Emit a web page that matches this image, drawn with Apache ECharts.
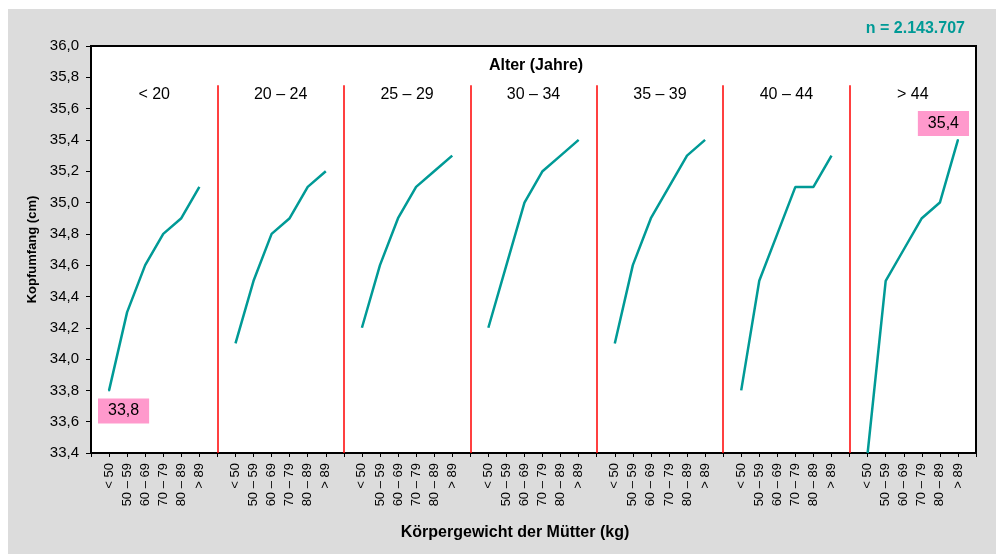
<!DOCTYPE html>
<html>
<head>
<meta charset="utf-8">
<script src="https://cdn.jsdelivr.net/npm/echarts@6/dist/echarts.min.js"></script>
<style>
  html, body { margin: 0; padding: 0; background: #ffffff; }
  #wrap { position: relative; width: 996px; height: 554px; overflow: hidden; }
  #panel { position: absolute; left: 8px; top: 9px; right: 0; bottom: 0; background: #dcdcdc; }
  #chart { position: absolute; left: 0; top: 0; width: 996px; height: 554px; }
</style>
</head>
<body>
<div id="wrap"><div id="panel"></div><div id="chart"></div></div>
<script>
// Maternal weight classes (x categories inside each age block)
const weightClasses = ['< 50', '50 – 59', '60 – 69', '70 – 79', '80 – 89', '> 89'];
// Maternal age groups (blocks)
const ageGroups = ['< 20', '20 – 24', '25 – 29', '30 – 34', '35 – 39', '40 – 44', '> 44'];

// Mean head circumference (cm) per weight class, one array per age group
const hcUnder20 = [33.8, 34.3, 34.6, 34.8, 34.9, 35.1];
const hc20to24  = [34.1, 34.5, 34.8, 34.9, 35.1, 35.2];
const hc25to29  = [34.2, 34.6, 34.9, 35.1, 35.2, 35.3];
const hc30to34  = [34.2, 34.6, 35.0, 35.2, 35.3, 35.4];
const hc35to39  = [34.1, 34.6, 34.9, 35.1, 35.3, 35.4];
const hc40to44  = [33.8, 34.5, 34.8, 35.1, 35.1, 35.3];
const hcOver44  = [33.4, 34.5, 34.7, 34.9, 35.0, 35.4];
const groupValues = [hcUnder20, hc20to24, hc25to29, hc30to34, hc35to39, hc40to44, hcOver44];

// Value axis range
const yMin = 33.4, yMax = 36.0, yStep = 0.2;

// Points that carry a value box: [age group index, weight class index]
const boxedPoints = [[0, 0], [6, 5]];

const sampleText = 'n = 2.143.707';

const FONT = 'Arial, "Liberation Sans", sans-serif';
const TEAL = '#009a96';
const fmt = v => v.toFixed(1).replace('.', ',');

// One flat category axis: leading blank, then each block of six classes followed by a blank slot
const categories = [''];
const values = [null];
const separators = [];
groupValues.forEach((arr, g) => {
  weightClasses.forEach((w, i) => {
    const v = arr[i];
    const boxed = boxedPoints.find(p => p[0] === g && p[1] === i);
    if (boxed) {
      const isLow = i === 0;
      values.push({
        value: v,
        symbol: 'circle',
        symbolSize: 2,
        label: {
          show: true,
          position: isLow ? 'bottom' : 'top',
          distance: isLow ? 7 : 3,
          offset: [isLow ? 14.5 : -14.5, 0],
          formatter: p => fmt(p.value),
          backgroundColor: '#ff99cc',
          color: '#000',
          fontFamily: FONT,
          fontSize: 16,
          lineHeight: 17,
          padding: [4, 10, 4, 10]
        }
      });
    } else {
      values.push(v);
    }
    categories.push(w);
  });
  categories.push('');
  values.push(null);
  if (g < groupValues.length - 1) separators.push(categories.length - 1);
});

const SEP_TOP = 35.75;
const sepLines = separators.map(idx => [
  { coord: [idx, yMin] },
  { coord: [idx, SEP_TOP] }
]);

const chart = echarts.init(document.getElementById('chart'), null, { renderer: 'canvas' });
chart.setOption({
  animation: false,
  backgroundColor: 'transparent',
  textStyle: { fontFamily: FONT },
  grid: {
    left: 91, right: 20, top: 46, bottom: 101,
    show: true, backgroundColor: '#ffffff', borderColor: '#000000', borderWidth: 2
  },
  xAxis: [
    {
      type: 'category',
      data: categories,
      boundaryGap: false,
      axisLine: { lineStyle: { color: '#000', width: 2 } },
      axisTick: { show: true, interval: 0, length: 4, lineStyle: { color: '#000', width: 1 } },
      axisLabel: { interval: 0, rotate: 90, margin: 10, fontSize: 13, color: '#000', fontFamily: FONT },
      splitLine: { show: false }
    },
    {
      type: 'category',
      data: ageGroups,
      position: 'top',
      boundaryGap: true,
      offset: -57,
      axisLine: { show: false },
      axisTick: { show: false },
      axisLabel: { interval: 0, margin: 0, fontSize: 16, color: '#000', fontFamily: FONT },
      splitLine: { show: false }
    }
  ],
  yAxis: {
    type: 'value',
    min: yMin, max: yMax, interval: yStep,
    name: 'Kopfumfang (cm)',
    nameLocation: 'middle',
    nameGap: 52,
    nameTextStyle: { fontSize: 13, fontWeight: 'bold', color: '#000', fontFamily: FONT },
    axisLine: { show: true, lineStyle: { color: '#000', width: 2 } },
    axisTick: { show: true, length: 5, lineStyle: { color: '#000', width: 1 } },
    axisLabel: { formatter: v => fmt(v), fontSize: 15, color: '#000', margin: 12, fontFamily: FONT },
    splitLine: { show: false }
  },
  series: [{
    type: 'line',
    xAxisIndex: 0,
    data: values,
    symbol: 'none',
    showSymbol: true,
    showAllSymbol: true,
    connectNulls: false,
    itemStyle: { color: TEAL },
    lineStyle: { color: TEAL, width: 2.5 },
    z: 5,
    markLine: {
      silent: true,
      symbol: 'none',
      label: { show: false },
      lineStyle: { color: '#ff0000', width: 1.5, type: 'solid' },
      data: sepLines,
      z: 3
    }
  }],
  graphic: [
    {
      type: 'text', x: 965, y: 29,
      style: { text: sampleText, fill: TEAL, font: 'bold 16px ' + FONT, textAlign: 'right', textVerticalAlign: 'middle' }
    },
    {
      type: 'text', x: 536, y: 66,
      style: { text: 'Alter (Jahre)', fill: '#000', font: 'bold 16px ' + FONT, textAlign: 'center', textVerticalAlign: 'middle' }
    },
    {
      type: 'text', x: 515, y: 533,
      style: { text: 'Körpergewicht der Mütter (kg)', fill: '#000', font: 'bold 16px ' + FONT, textAlign: 'center', textVerticalAlign: 'middle' }
    }
  ]
});
</script>
</body>
</html>
